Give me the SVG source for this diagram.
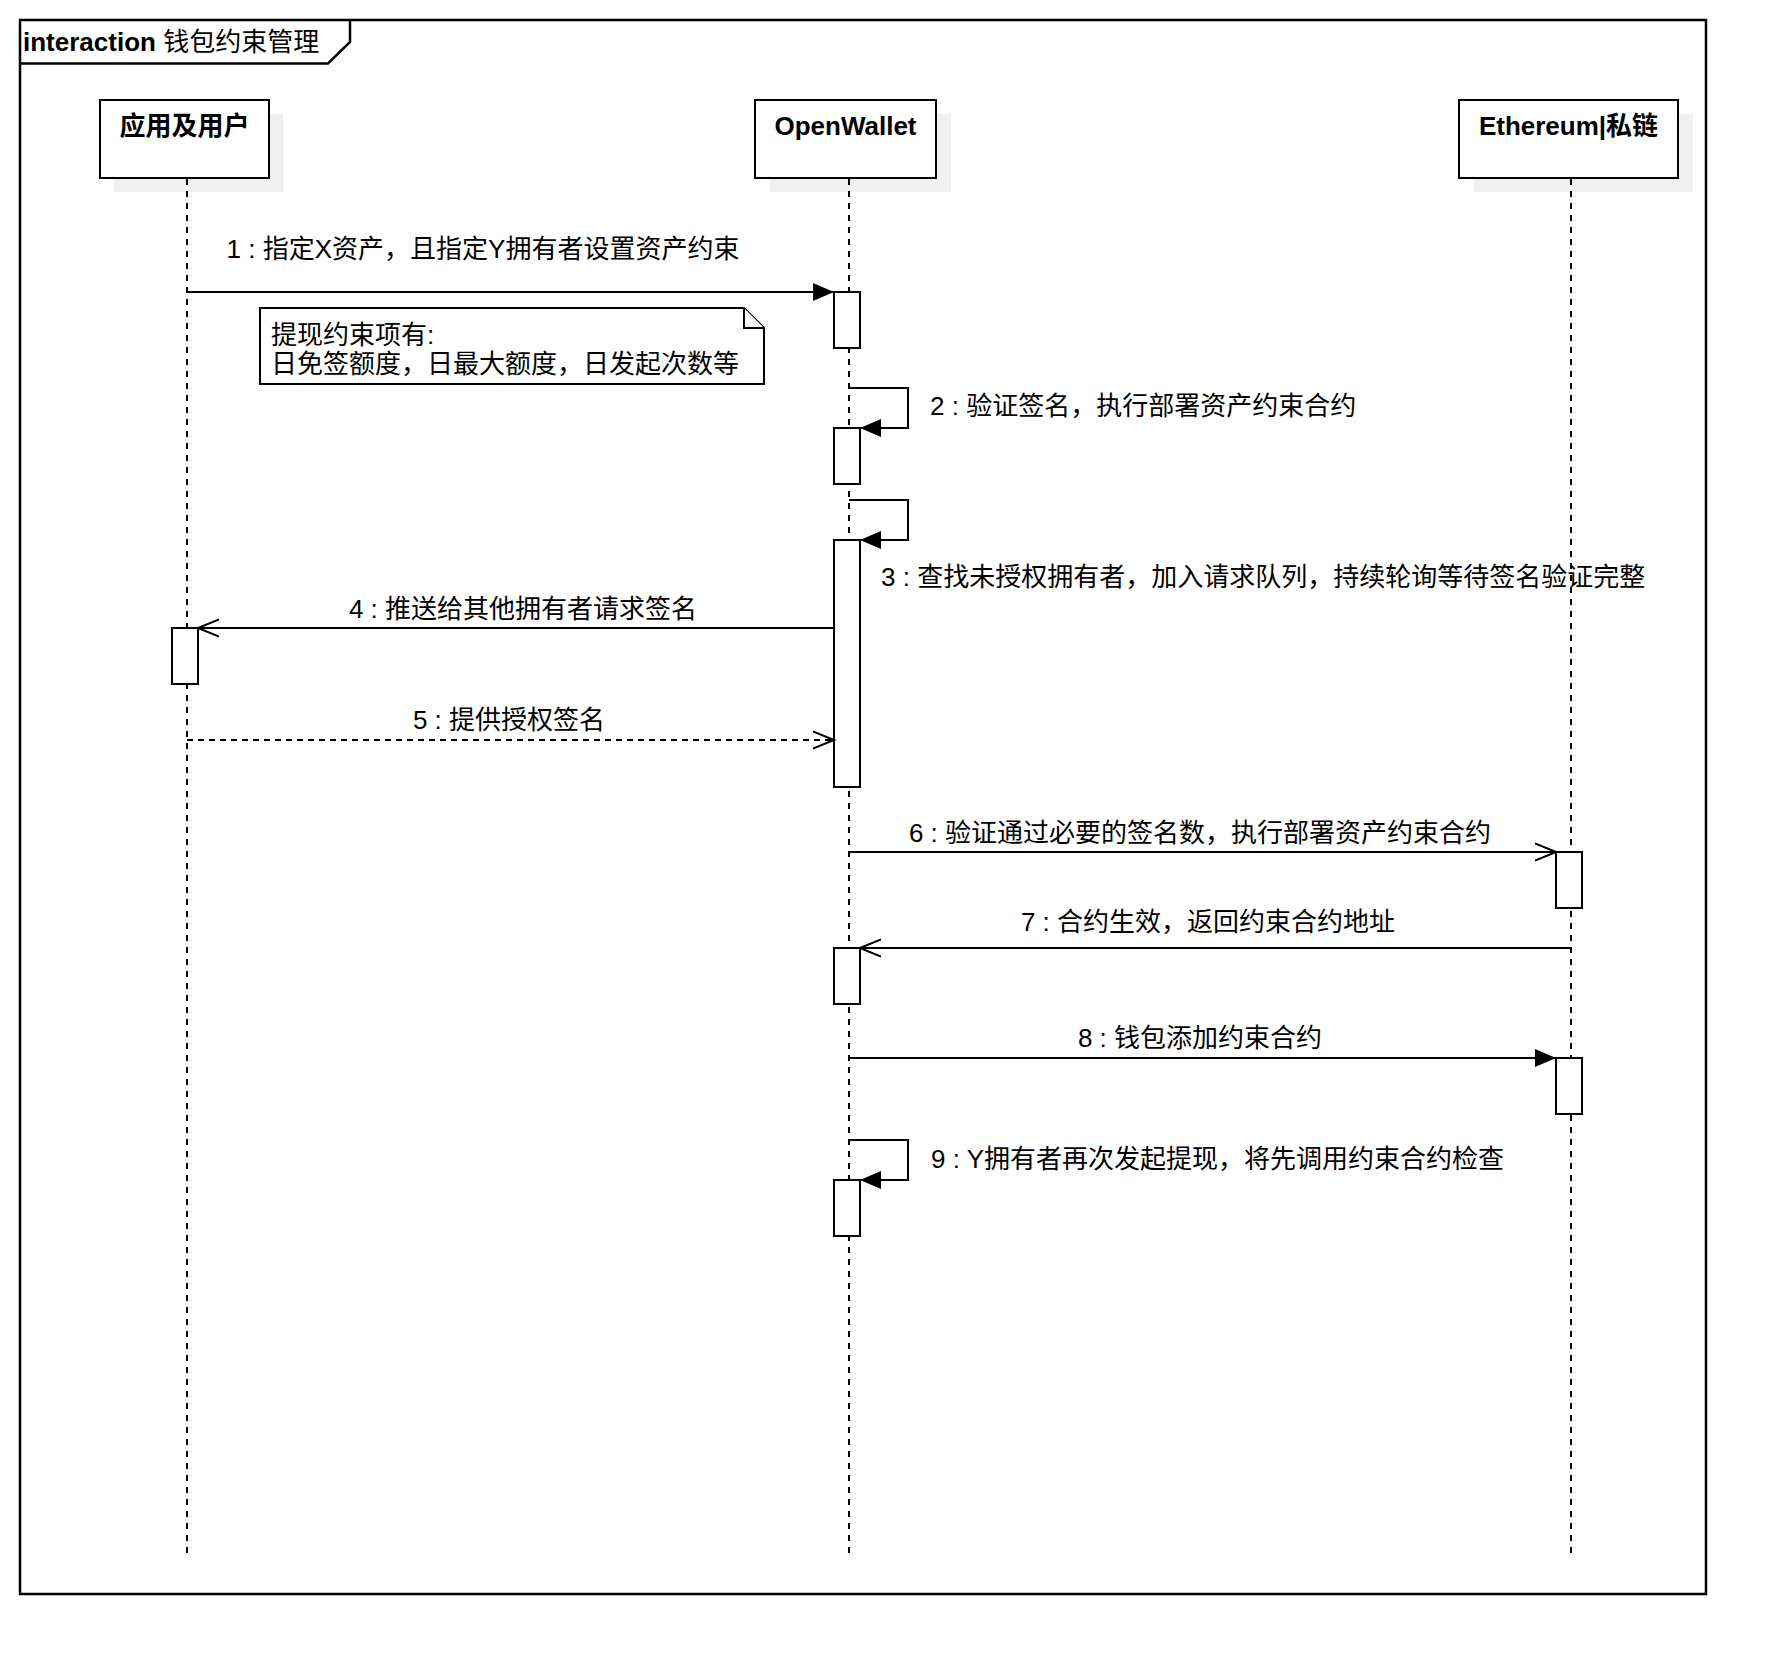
<svg xmlns="http://www.w3.org/2000/svg" width="1786" height="1674" viewBox="0 0 1786 1674">
<style>
  text { font-family: "Liberation Sans", "Noto Sans CJK SC", sans-serif; font-size: 26px; fill: #000; }
  .b { font-weight: bold; }
  .mid { text-anchor: middle; }
  .box { fill: #fff; stroke: #000; stroke-width: 2; }
  .shadow { fill: #f0f0f0; stroke: none; }
  .life { stroke: #000; stroke-width: 2; stroke-dasharray: 6 6; fill: none; }
  .msg { stroke: #000; stroke-width: 2; fill: none; }
  .dash { stroke-dasharray: 6 5; }
  .act { fill: #fff; stroke: #000; stroke-width: 2; }
  .frame { fill: none; stroke: #000; stroke-width: 2.5; }
  .note { fill: #fff; stroke: #000; stroke-width: 2; }
</style>
<defs>
  <marker id="filled" markerUnits="userSpaceOnUse" markerWidth="24" markerHeight="20" refX="21" refY="9" orient="auto">
    <path d="M0,0 L21,9 L0,18 Z" fill="#000"/>
  </marker>
  <marker id="open" markerUnits="userSpaceOnUse" markerWidth="26" markerHeight="22" refX="21" refY="10" orient="auto">
    <path d="M0,1.5 L21,10 L0,18.5" fill="none" stroke="#000" stroke-width="2"/>
  </marker>
</defs>
<rect x="0" y="0" width="1786" height="1674" fill="#fff"/>

<g id="frame">
  <rect class="frame" x="20" y="20" width="1686" height="1574"/>
  <path class="frame" d="M20,63.5 L328,63.5 L350,42 L350,20"/>
  <text x="23" y="51"><tspan class="b">interaction</tspan> 钱包约束管理</text>
</g>

<g id="participant-app">
  <rect class="shadow" x="114" y="114" width="169" height="78"/>
  <rect class="box" x="100" y="100" width="169" height="78"/>
  <text class="b mid" x="184.5" y="135">应用及用户</text>
  <path class="life" d="M187,179 V1555"/>
</g>
<g id="participant-openwallet">
  <rect class="shadow" x="770" y="114" width="181" height="78"/>
  <rect class="box" x="755" y="100" width="181" height="78"/>
  <text class="b mid" x="845.5" y="135">OpenWallet</text>
  <path class="life" d="M849,179 V1555"/>
</g>
<g id="participant-ethereum">
  <rect class="shadow" x="1474" y="114" width="219" height="78"/>
  <rect class="box" x="1459" y="100" width="219" height="78"/>
  <text class="b mid" x="1568.5" y="135">Ethereum|私链</text>
  <path class="life" d="M1571,179 V1555"/>
</g>

<g id="activations">
  <rect id="act1" class="act" x="834" y="292" width="26" height="56"/>
  <rect id="act2" class="act" x="834" y="428" width="26" height="56"/>
  <rect id="act3" class="act" x="834" y="540" width="26" height="247"/>
  <rect id="act4" class="act" x="172" y="628" width="26" height="56"/>
  <rect id="act6" class="act" x="1556" y="852" width="26" height="56"/>
  <rect id="act7" class="act" x="834" y="948" width="26" height="56"/>
  <rect id="act8" class="act" x="1556" y="1058" width="26" height="56"/>
  <rect id="act9" class="act" x="834" y="1180" width="26" height="56"/>
</g>

<g id="note">
  <path class="note" d="M260,308 L744,308 L764,328 L764,384 L260,384 Z"/>
  <path class="note" d="M744,308 L744,328 L764,328" fill="none"/>
  <text x="271" y="343.5">提现约束项有:</text>
  <text x="271" y="372.5">日免签额度，日最大额度，日发起次数等</text>
</g>

<g id="connectors">
  <path class="msg" d="M187,292 H834" marker-end="url(#filled)"/>
  <text class="mid" x="483" y="258">1 : 指定X资产，且指定Y拥有者设置资产约束</text>

  <path class="msg" d="M849,388 H908 V428 H860" marker-end="url(#filled)"/>
  <text x="930" y="415">2 : 验证签名，执行部署资产约束合约</text>

  <path class="msg" d="M849,500 H908 V540 H860" marker-end="url(#filled)"/>
  <text x="881" y="586">3 : 查找未授权拥有者，加入请求队列，持续轮询等待签名验证完整</text>

  <path class="msg" d="M834,628 H198" marker-end="url(#open)"/>
  <text class="mid" x="523" y="617.5">4 : 推送给其他拥有者请求签名</text>

  <path class="msg dash" d="M187,740 H834" marker-end="url(#open)"/>
  <text class="mid" x="509" y="729">5 : 提供授权签名</text>

  <path class="msg" d="M849,852 H1556" marker-end="url(#open)"/>
  <text class="mid" x="1200" y="841.5">6 : 验证通过必要的签名数，执行部署资产约束合约</text>

  <path class="msg" d="M1571,948 H860" marker-end="url(#open)"/>
  <text class="mid" x="1208" y="930.5">7 : 合约生效，返回约束合约地址</text>

  <path class="msg" d="M849,1058 H1556" marker-end="url(#filled)"/>
  <text class="mid" x="1200" y="1046.5">8 : 钱包添加约束合约</text>

  <path class="msg" d="M849,1140 H908 V1180 H860" marker-end="url(#filled)"/>
  <text x="931" y="1168">9 : Y拥有者再次发起提现，将先调用约束合约检查</text>
</g>
</svg>
